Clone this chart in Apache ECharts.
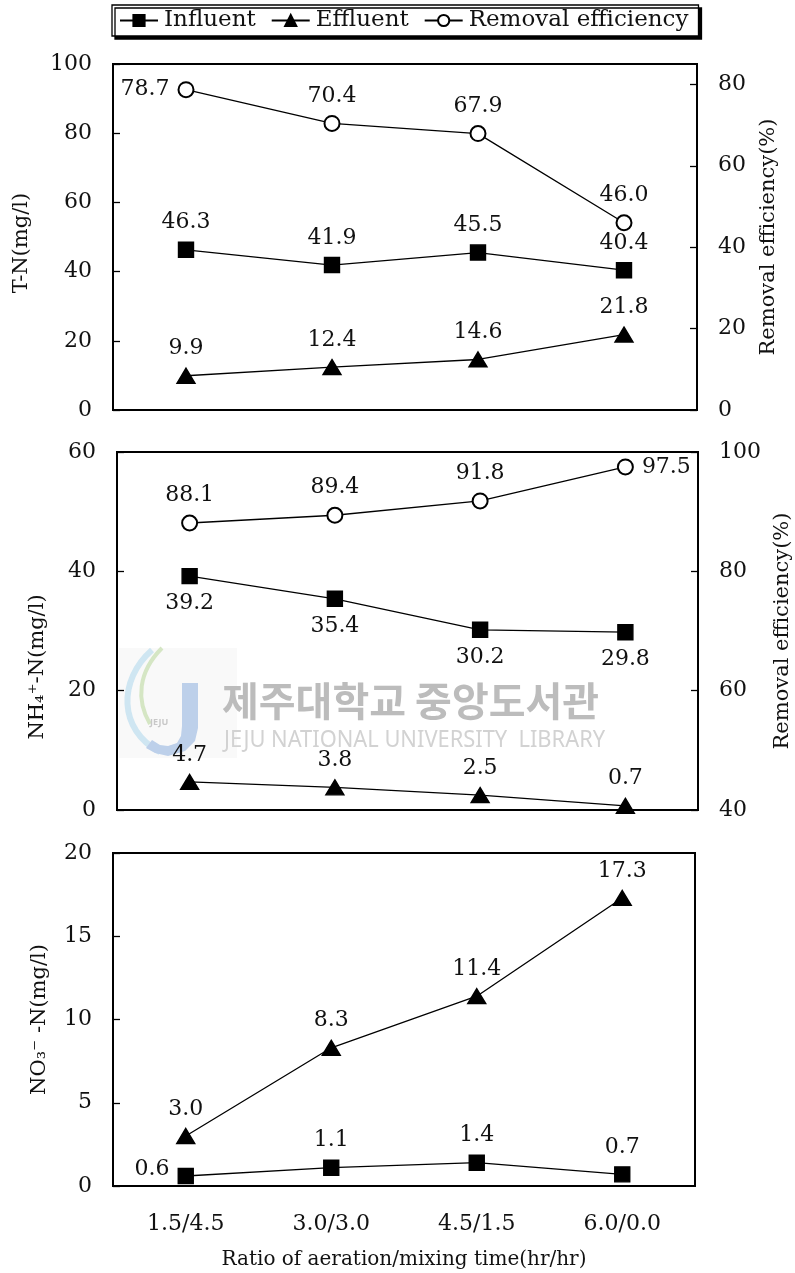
<!DOCTYPE html>
<html>
<head>
<meta charset="utf-8">
<style>
  html, body { margin: 0; padding: 0; background: #fff; }
  #chart { width: 795px; height: 1273px; }
</style>
<script src="https://cdn.jsdelivr.net/npm/echarts@6/dist/echarts.min.js"></script>
</head>
<body>
<div id="chart"></div>
<script>
// ---------- data ----------
const categories = ['1.5/4.5', '3.0/3.0', '4.5/1.5', '6.0/0.0'];

const tnInfluent = [46.3, 41.9, 45.5, 40.4];
const tnEffluent = [9.9, 12.4, 14.6, 21.8];
const tnRemoval  = [78.7, 70.4, 67.9, 46.0];

const nhInfluent = [39.2, 35.4, 30.2, 29.8];
const nhEffluent = [4.7, 3.8, 2.5, 0.7];
const nhRemoval  = [88.1, 89.4, 91.8, 97.5];

const noInfluent = [0.6, 1.1, 1.4, 0.7];
const noEffluent = [3.0, 8.3, 11.4, 17.3];

// axis tick values [min, max, interval]
const tnLeftTicks  = [0, 100, 20];
const tnRightTicks = [0, 85, 20];
const nhLeftTicks  = [0, 60, 20];
const nhRightTicks = [40, 100, 20];
const noLeftTicks  = [0, 20, 5];

// ---------- styling ----------
const FONT = 'DejaVu Serif';
const TXT = '#111';
const NUM_SIZE = 22;
const NAME_SIZE = 21;

function mkData(values, overrides) {
  return values.map((v, i) => {
    if (overrides && overrides[i]) {
      return { value: v, label: overrides[i] };
    }
    return v;
  });
}

const labelBase = {
  show: true,
  position: 'top',
  distance: 8,
  fontFamily: FONT,
  fontSize: NUM_SIZE,
  color: TXT,
  formatter: p => Number(p.value).toFixed(1)
};

const SYMBOLS = {
  'Influent': { symbol: 'rect', symbolSize: 15 },
  'Effluent': { symbol: 'triangle', symbolSize: [18, 15] },
  'Removal efficiency': { symbol: 'emptyCircle', symbolSize: 15 }
};

function mkSeries(name, values, xi, yi, overrides, labelPos) {
  return {
    type: 'line',
    name: name,
    xAxisIndex: xi,
    yAxisIndex: yi,
    data: mkData(values, overrides),
    symbol: SYMBOLS[name].symbol,
    symbolSize: SYMBOLS[name].symbolSize,
    showAllSymbol: true,
    color: '#000',
    lineStyle: { color: '#000', width: 1.3 },
    itemStyle: { color: '#000', borderColor: '#000', borderWidth: 1.4 },
    label: Object.assign({}, labelBase, labelPos ? { position: labelPos } : {}),
    emphasis: { disabled: true },
    animation: false,
    z: 3
  };
}

function yAxisCfg(grid, ticks, pos, name, nameGap, extra) {
  return Object.assign({
    type: 'value',
    gridIndex: grid,
    position: pos,
    min: ticks[0], max: ticks[1], interval: ticks[2],
    axisLine: { show: false },
    axisTick: { show: true, inside: true, length: 7, lineStyle: { color: '#000', width: 1.3 } },
    splitLine: { show: false },
    axisLabel: { fontFamily: FONT, fontSize: NUM_SIZE, color: TXT, margin: 21 },
    name: name,
    nameLocation: 'middle',
    nameGap: nameGap,
    nameTextStyle: { fontFamily: FONT, fontSize: NAME_SIZE, color: TXT }
  }, extra || {});
}

function xAxisCfg(grid, showLabels) {
  const cfg = {
    type: 'category',
    gridIndex: grid,
    data: categories,
    boundaryGap: true,
    axisLine: { show: false },
    axisTick: { show: false },
    splitLine: { show: false },
    axisLabel: { show: showLabels, fontFamily: FONT, fontSize: 22, color: TXT, margin: 27 }
  };
  if (showLabels) {
    cfg.name = 'Ratio of aeration/mixing time(hr/hr)';
    cfg.nameLocation = 'middle';
    cfg.nameGap = 64;
    cfg.nameTextStyle = { fontFamily: FONT, fontSize: 20, color: TXT };
  }
  return cfg;
}

const gridBase = {
  show: true, borderColor: '#000', borderWidth: 2, backgroundColor: 'transparent',
  containLabel: false, outerBoundsMode: 'none'
};

// decorative library watermark (scan artefact in the reference)
const watermark = [
  {
    type: 'rect', z: 0, silent: true,
    shape: { x: 119, y: 648, width: 118, height: 110 },
    style: { fill: '#f9f9f9' }
  },
  {
    type: 'bezierCurve', z: 1, silent: true,
    shape: { x1: 152, y1: 650, cpx1: 118, cpy1: 680, cpx2: 118, cpy2: 730, x2: 160, y2: 752 },
    style: { fill: null, stroke: '#cfe6f2', lineWidth: 6 }
  },
  {
    type: 'bezierCurve', z: 1, silent: true,
    shape: { x1: 162, y1: 648, cpx1: 138, cpy1: 672, cpx2: 136, cpy2: 700, x2: 150, y2: 724 },
    style: { fill: null, stroke: '#d5e6c4', lineWidth: 4 }
  },
  {
    type: 'polygon', z: 1, silent: true,
    shape: { points: [[182,683],[198,683],[198,728],[195,741],[185,751],[168,756],[155,753],[146,748],[152,740],[160,745],[168,746],[177,743],[181,736],[182,726]] },
    style: { fill: '#bdd0ea' }
  },
  {
    type: 'text', z: 1, silent: true, left: 150, top: 718,
    style: { text: 'JEJU', fontFamily: 'Noto Sans', fontWeight: 'bold', fontSize: 9, fill: '#c8c8c8' }
  },
  {
    type: 'text', left: 222, top: 681, z: 1, silent: true,
    style: { text: '제주대학교 중앙도서관', fontFamily: 'Noto Sans CJK KR', fontWeight: 'bold', fontSize: 40, fill: '#bcbcbc' }
  },
  {
    type: 'text', left: 224, top: 729, z: 1, silent: true, scaleX: 0.95,
    style: { text: 'JEJU NATIONAL UNIVERSITY  LIBRARY', fontFamily: 'Noto Sans', fontSize: 23, fill: '#d2d2d2' }
  }
];

const option = {
  backgroundColor: '#fff',
  animation: false,
  legend: {
    left: 112,
    top: 5,
    orient: 'horizontal',
    data: ['Influent', 'Effluent', 'Removal efficiency'],
    itemWidth: 38,
    itemHeight: 14,
    itemGap: 15,
    padding: [4, 10, 4, 7],
    backgroundColor: '#fff',
    borderColor: '#000',
    borderWidth: 1.3,
    shadowColor: '#000',
    shadowBlur: 0,
    shadowOffsetX: 3,
    shadowOffsetY: 3,
    textStyle: { fontFamily: FONT, fontSize: 23, color: TXT, padding: [0, 0, 0, 1] },
    selectedMode: false
  },
  grid: [
    Object.assign({ left: 113, top: 64, width: 584, height: 346 }, gridBase),
    Object.assign({ left: 117, top: 452, width: 581, height: 358 }, gridBase),
    Object.assign({ left: 113, top: 853, width: 582, height: 333 }, gridBase)
  ],
  xAxis: [xAxisCfg(0, false), xAxisCfg(1, false), xAxisCfg(2, true)],
  yAxis: [
    yAxisCfg(0, tnLeftTicks, 'left', 'T-N(mg/l)', 81, { nameTextStyle: { fontFamily: FONT, fontSize: NAME_SIZE, color: TXT, padding: [0, 12, 0, 0] } }),
    yAxisCfg(0, tnRightTicks, 'right', 'Removal efficiency(%)', 61, { axisLabel: { fontFamily: FONT, fontSize: NUM_SIZE, color: TXT, margin: 21, showMaxLabel: false } }),
    yAxisCfg(1, nhLeftTicks, 'left', 'NH\u2084\u207A-N(mg/l)', 69, { nameTextStyle: { fontFamily: FONT, fontSize: NAME_SIZE, color: TXT, padding: [0, 72, 0, 0] } }),
    yAxisCfg(1, nhRightTicks, 'right', 'Removal efficiency(%)', 74),
    yAxisCfg(2, noLeftTicks, 'left', 'NO\u2083\u207B -N(mg/l)', 63)
  ],
  graphic: watermark,
  series: [
    mkSeries('Influent', tnInfluent, 0, 0),
    mkSeries('Effluent', tnEffluent, 0, 0),
    mkSeries('Removal efficiency', tnRemoval, 0, 1, { 0: { position: 'left' } }),

    mkSeries('Removal efficiency', nhRemoval, 1, 3, { 3: { position: 'right' } }),
    mkSeries('Influent', nhInfluent, 1, 2, null, 'bottom'),
    mkSeries('Effluent', nhEffluent, 1, 2),

    mkSeries('Effluent', noEffluent, 2, 4),
    mkSeries('Influent', noInfluent, 2, 4, { 0: { position: 'left', offset: [0, -7] } })
  ]
};

const chart = echarts.init(document.getElementById('chart'), null, { renderer: 'canvas' });
chart.setOption(option);
</script>
</body>
</html>
